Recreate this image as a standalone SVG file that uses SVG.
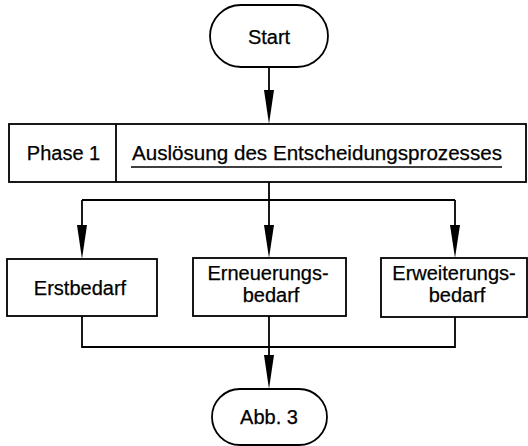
<svg xmlns="http://www.w3.org/2000/svg" width="528" height="446" viewBox="0 0 528 446">
<style>
.box{fill:#fff;stroke:#000;stroke-width:1.8}
.ln{fill:none;stroke:#000;stroke-width:1.8}
.t{font-family:"Liberation Sans",Arial,sans-serif;font-size:20px;fill:#000;stroke:#000;stroke-width:0.25}
.c{text-anchor:middle}
.ah{fill:#000}
</style>
<rect width="528" height="446" fill="#fff"/>
<g id="connectors">
<line class="ln" x1="269" y1="67" x2="269" y2="90"/>
<polygon class="ah" points="264,90 274,90 269,124"/>
<line class="ln" x1="269" y1="182" x2="269" y2="225"/>
<line class="ln" x1="82" y1="200" x2="455" y2="200"/>
<line class="ln" x1="82" y1="200" x2="82" y2="225"/>
<line class="ln" x1="455" y1="200" x2="455" y2="225"/>
<polygon class="ah" points="77,225 87,225 82,259"/>
<polygon class="ah" points="264,225 274,225 269,258"/>
<polygon class="ah" points="450,225 460,225 455,258"/>
<polyline class="ln" points="82,316 82,347 455,347 455,317"/>
<line class="ln" x1="269" y1="316" x2="269" y2="356"/>
<polygon class="ah" points="264,355 274,355 269,389"/>
</g>
<g id="start">
<rect class="box" x="210" y="5" width="118" height="62" rx="31"/>
<text class="t c" x="269" y="44">Start</text>
</g>
<g id="phase1">
<rect class="box" x="9" y="124" width="517" height="58"/>
<line class="ln" x1="116" y1="124" x2="116" y2="182"/>
<text class="t c" x="63.5" y="160">Phase 1</text>
<text class="t" x="132" y="160" textLength="370" lengthAdjust="spacingAndGlyphs">Auslösung des Entscheidungsprozesses</text>
<line x1="131" y1="167" x2="502" y2="167" stroke="#000" stroke-width="1.5"/>
</g>
<g id="erstbedarf">
<rect class="box" x="7" y="259" width="150" height="57"/>
<text class="t c" x="80" y="295">Erstbedarf</text>
</g>
<g id="erneuerungsbedarf">
<rect class="box" x="193" y="258" width="153" height="58"/>
<text class="t c" x="268" y="280">Erneuerungs-</text>
<text class="t c" x="271" y="302">bedarf</text>
</g>
<g id="erweiterungsbedarf">
<rect class="box" x="381" y="258" width="146" height="59"/>
<text class="t c" x="454" y="280">Erweiterungs-</text>
<text class="t c" x="457" y="302">bedarf</text>
</g>
<g id="abb3">
<rect class="box" x="212" y="389" width="115" height="56" rx="28"/>
<text class="t c" x="269" y="424">Abb. 3</text>
</g>
</svg>
